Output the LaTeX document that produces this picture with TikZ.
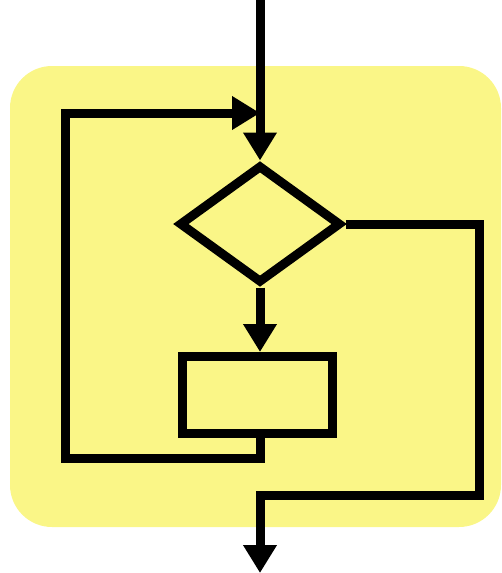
\documentclass[tikz,border=0pt]{standalone}
\usetikzlibrary{arrows.meta,shapes.geometric}
\definecolor{bgyellow}{RGB}{250,246,135}
\tikzset{
  flow/.style={line width=9pt, line join=miter, draw=black},
  arr/.style={flow, -{Triangle[width=32pt,length=28pt]}},
  decision/.style={diamond, draw=black, line width=9pt, inner sep=0pt, minimum width=162pt, minimum height=118pt},
  process/.style={rectangle, draw=black, line width=9pt, inner sep=0pt, minimum width=150pt, minimum height=77pt},
  panel/.style={fill=bgyellow, rounded corners=42pt}
}
\begin{document}
\begin{tikzpicture}[x=1pt,y=-1pt]
\useasboundingbox (0,0) rectangle (501,573);
\fill[panel] (10,66) rectangle (501,527);
\node[decision] (d) at (260,224) {};
\node[process] (r) at (257,395) {};
\coordinate (start) at (260,0);
\coordinate (j) at (260,113);
\coordinate (tl) at (65,113);
\coordinate (bl) at (65,458);
\coordinate (rb) at (479,495);
\coordinate (ob) at (260,495);
\coordinate (endp) at (260,573);
\draw[arr] (start) -- (d.north);
\draw[arr] (d.south) -- (d.south |- r.north);
\draw[arr] (r.south -| 260,0) |- (bl) -- (tl) -- (j);
\draw[arr] (d.east) -| (rb) -- (ob) -- (endp);
\end{tikzpicture}
\end{document}
